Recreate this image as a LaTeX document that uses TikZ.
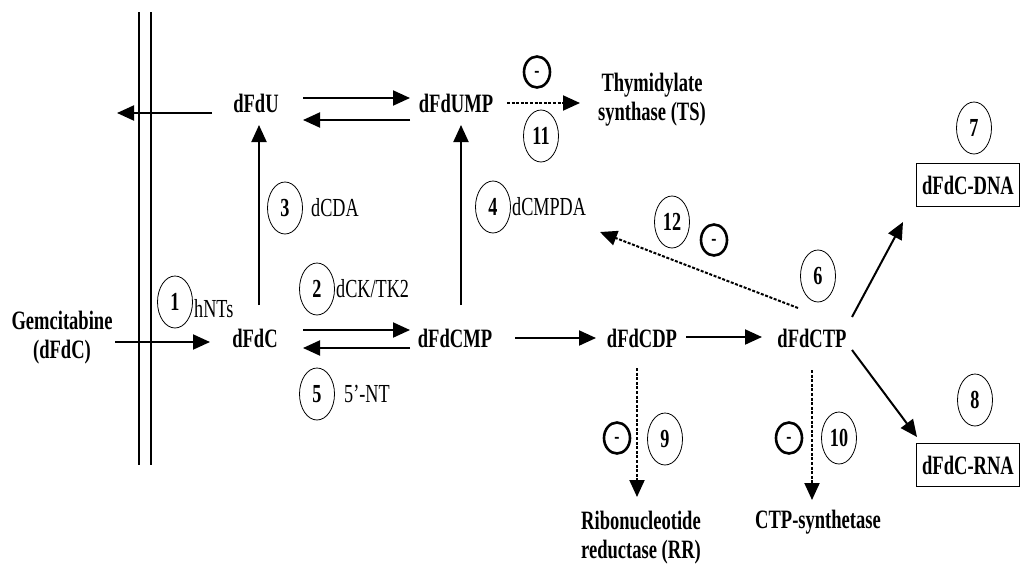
\documentclass[tikz,border=0pt]{standalone}
\usepackage{fontspec}
\setmainfont{Liberation Serif}[FakeStretch=0.70]
\usetikzlibrary{arrows.meta,shapes.geometric,calc}

\tikzset{
  x=1pt, y=-1pt,
  met/.style={font=\bfseries\fontsize{26.5}{29}\selectfont, inner sep=0pt, align=center},
  enz/.style={font=\fontsize{26}{28}\selectfont, inner sep=0pt, anchor=west},
  num/.style={draw, ellipse, line width=0.8pt, minimum width=35pt, minimum height=52pt,
              inner sep=0pt, font=\bfseries\fontsize{26}{28}\selectfont},
  inh/.style={draw, ellipse, line width=2.6pt, minimum width=26pt, minimum height=31pt,
              inner sep=0pt, text height=10.5pt, text depth=0pt,
              font=\bfseries\fontsize{22}{22}\selectfont},
  prod/.style={draw, line width=1pt, minimum width=103pt, minimum height=43pt,
               inner sep=0pt, font=\bfseries\fontsize{26.5}{29}\selectfont},
  rx/.style={line width=2pt, -{Triangle[length=17pt,width=15pt]}},
  rxdot/.style={rx, dash pattern=on 3pt off 1.6pt},
  membrane/.style={line width=2.5pt}
}

\begin{document}
\begin{tikzpicture}
\useasboundingbox (0,0) rectangle (1022,568);

% cell membrane
\draw[membrane] (139,12) -- (139,465);
\draw[membrane] (151,12) -- (151,465);

% metabolites
\node[met] (gem)    at (62,338)  {Gemcitabine\\(dFdC)};
\node[met] (dFdC)   at (255,338) {dFdC};
\node[met] (dFdCMP) at (455,338) {dFdCMP};
\node[met] (dFdCDP) at (642,338) {dFdCDP};
\node[met] (dFdCTP) at (812,338) {dFdCTP};
\node[met] (dFdU)   at (256,103) {dFdU};
\node[met] (dFdUMP) at (456,103) {dFdUMP};
\node[met] (TS)     at (652,100) {Thymidylate\\synthase (TS)};
\node[met] (RR)     at (641,538) {Ribonucleotide\\reductase (RR)};
\node[met] (CTPs)   at (818,522) {CTP-synthetase};
\node[prod] (DNA)   at (968,185) {dFdC-DNA};
\node[prod] (RNA)   at (968,465) {dFdC-RNA};

% free ends
\coordinate (efflux) at (117,113);
\coordinate (deam)   at (600,232);

% enzyme steps
\node[num] (n1)  at (175,302) {1};
\node[enz] (e1)  at (194,309) {hNTs};
\node[num] (n2)  at (317,289) {2};
\node[enz] (e2)  at (336,289) {dCK/TK2};
\node[num] (n3)  at (285,208) {3};
\node[enz] (e3)  at (311,208) {dCDA};
\node[num] (n4)  at (493,207) {4};
\node[enz] (e4)  at (512,207) {dCMPDA};
\node[num] (n5)  at (317,394) {5};
\node[enz] (e5)  at (344,394) {5'-NT};
\node[num] (n6)  at (818,276) {6};
\node[num] (n7)  at (974,128) {7};
\node[num] (n8)  at (975,400) {8};
\node[num] (n9)  at (665,439) {9};
\node[num] (n10) at (839,438) {10};
\node[num] (n11) at (541,136) {11};
\node[num] (n12) at (672,222) {12};

% inhibition marks
\node[inh] (i11) at (537,72)  {-};
\node[inh] (i12) at (714,240) {-};
\node[inh] (i9)  at (617,438) {-};
\node[inh] (i10) at (789,438) {-};

% transport and phosphorylation
\draw[rx] ($(gem)+(53,4)$) -- ($(dFdC)+(-45,4)$);
\draw[rx] ($(dFdU)+(-44,10)$) -- (efflux);
\draw[rx] ($(dFdU)+(47,-5)$) -- ($(dFdUMP)+(-46,-5)$);
\draw[rx] ($(dFdUMP)+(-46,17)$) -- ($(dFdU)+(47,17)$);
\draw[rx] ($(dFdC)+(48,-8)$) -- ($(dFdCMP)+(-45,-8)$);
\draw[rx] ($(dFdCMP)+(-45,10)$) -- ($(dFdC)+(48,10)$);
\draw[rx] ($(dFdC)+(4,-33)$) -- ($(dFdU)+(3,22)$);
\draw[rx] ($(dFdCMP)+(6,-33)$) -- ($(dFdUMP)+(5,22)$);
\draw[rx] ($(dFdCMP)+(60,0)$) -- ($(dFdCDP)+(-46,0)$);
\draw[rx] ($(dFdCDP)+(44,-1)$) -- ($(dFdCTP)+(-50,-1)$);
\draw[rx] ($(dFdCTP)+(40,-21)$) -- ($(DNA)+(-65,37)$);
\draw[rx] ($(dFdCTP)+(40,12)$) -- ($(RNA)+(-51,-28)$);

% inhibitory effects
\draw[rxdot] ($(dFdUMP)+(51,0)$) -- ($(TS)+(-72,3)$);
\draw[rxdot] ($(dFdCTP)+(-14,-30)$) -- (deam);
\draw[rxdot] ($(dFdCDP)+(-5,30)$) -- ($(RR)+(-4,-41)$);
\draw[rxdot] ($(dFdCTP)+(0,32)$) -- ($(CTPs)+(-6,-22)$);
\end{tikzpicture}
\end{document}
